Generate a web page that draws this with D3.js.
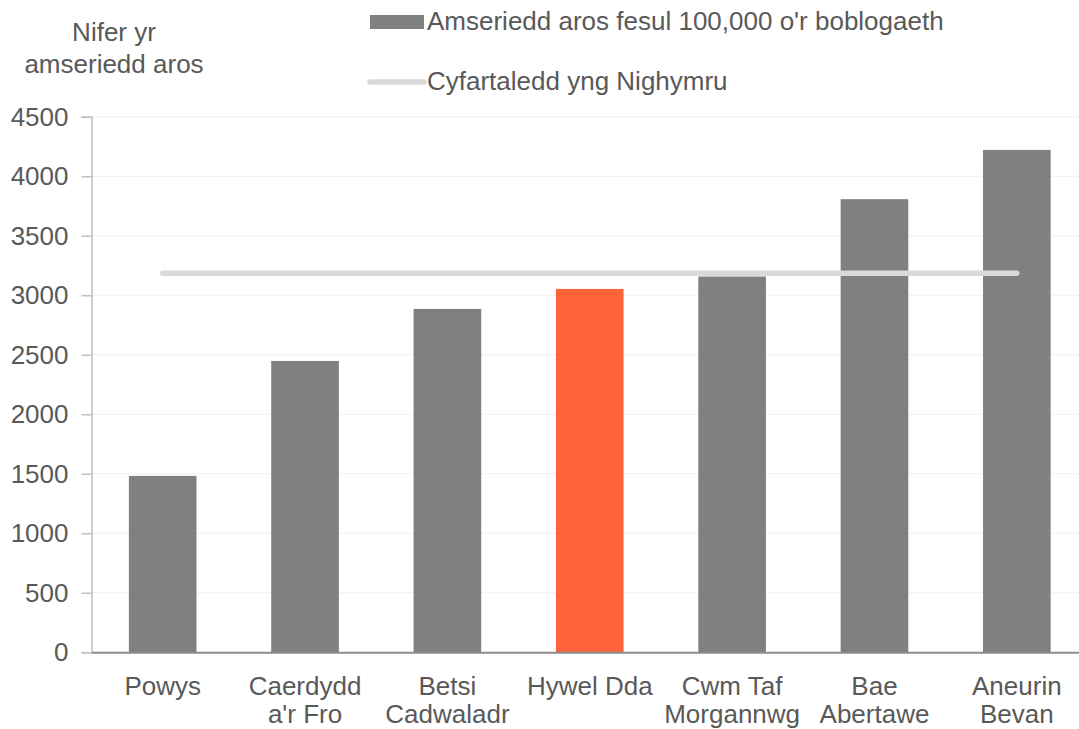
<!DOCTYPE html>
<html><head><meta charset="utf-8">
<script src="https://cdn.jsdelivr.net/npm/d3@7"></script>
<style>body{margin:0;background:#fff}svg{display:block;font-family:"Liberation Sans",Arial,sans-serif}</style>
</head><body><svg id="c" width="1079" height="729"></svg>
<script>
const categories = [["Powys"],["Caerdydd","a'r Fro"],["Betsi","Cadwaladr"],["Hywel Dda"],["Cwm Taf","Morgannwg"],["Bae","Abertawe"],["Aneurin","Bevan"]];
const values = [1482, 2448, 2885, 3053, 3157, 3807, 4221];
const highlight = [false, false, false, true, false, false, false];
const walesAverage = 3185;
const yTicks = [0,500,1000,1500,2000,2500,3000,3500,4000,4500];
const legendLabels = ["Amseriedd aros fesul 100,000 o'r boblogaeth", "Cyfartaledd yng Nighymru"];
const yTitle = ["Nifer yr", "amseriedd aros"];

const svg = d3.select("#c");
const keys = categories.map(c => c.join(" "));
const x = d3.scaleBand().domain(keys).range([91.5, 1088]).paddingInner(0.525).paddingOuter(0.2625);
const y = d3.scaleLinear().domain([0, 4500]).range([652.3, 116.7]);
const textCol = "#595959";
const fs = 26;

// gridlines
svg.append("g").selectAll("line").data(yTicks.slice(1)).join("line")
  .attr("x1", 91.5).attr("x2", 1079).attr("y1", d => y(d)).attr("y2", d => y(d))
  .attr("stroke", "#efefef").attr("stroke-width", 1);

// y axis
const yAxis = d3.axisLeft(y).tickValues(yTicks).tickSize(10).tickPadding(13).tickFormat(d3.format("d"));
const gy = svg.append("g").attr("transform", "translate(91.5,0)").call(yAxis);
gy.select(".domain").attr("stroke", "#bfbfbf").attr("stroke-width", 1.5);
gy.selectAll(".tick line").attr("stroke", "#bfbfbf").attr("stroke-width", 1.5);
gy.selectAll(".tick text").attr("fill", textCol).attr("font-size", fs).attr("font-family", "Liberation Sans, Arial, sans-serif");

// bars
svg.append("g").selectAll("rect").data(values).join("rect")
  .attr("x", (d,i) => x(keys[i])).attr("width", x.bandwidth())
  .attr("y", d => y(d)).attr("height", d => y(0) - y(d))
  .attr("fill", (d,i) => highlight[i] ? "#ff6339" : "#808080");

// x axis
const xAxis = d3.axisBottom(x).tickSize(0).tickFormat("");
const gx = svg.append("g").attr("transform", `translate(0,${y(0)})`).call(xAxis);
gx.select(".domain").attr("stroke", "#8c8c8c").attr("stroke-width", 2);
svg.append("g").selectAll("text").data(categories).join("text")
  .attr("text-anchor", "middle").attr("fill", textCol).attr("font-size", fs)
  .attr("transform", (d,i) => `translate(${x(keys[i]) + x.bandwidth()/2},695)`)
  .selectAll("tspan").data(d => d).join("tspan")
  .attr("x", 0).attr("y", (d,i) => i * 28).text(d => d);

// average line
const avgLine = d3.line().x(d => x(d) + x.bandwidth()/2).y(() => y(walesAverage));
svg.append("path").datum([keys[0], keys[keys.length-1]]).attr("d", avgLine)
  .attr("stroke", "#d9d9d9").attr("stroke-width", 5.5).attr("stroke-linecap", "round").attr("fill", "none");

// y title
svg.append("text").attr("text-anchor", "middle").attr("fill", textCol).attr("font-size", fs)
  .selectAll("tspan").data(yTitle).join("tspan")
  .attr("x", 114).attr("y", (d,i) => 41 + i * 32).text(d => d);

// legend
svg.append("rect").attr("x", 370).attr("y", 15).attr("width", 54).attr("height", 14).attr("fill", "#808080");
svg.append("text").attr("x", 427).attr("y", 30).attr("fill", textCol).attr("font-size", fs).text(legendLabels[0]);
svg.append("line").attr("x1", 370).attr("x2", 424).attr("y1", 82).attr("y2", 82)
  .attr("stroke", "#d9d9d9").attr("stroke-width", 5.5).attr("stroke-linecap", "round");
svg.append("text").attr("x", 427).attr("y", 90).attr("fill", textCol).attr("font-size", fs).text(legendLabels[1]);
</script></body></html>
